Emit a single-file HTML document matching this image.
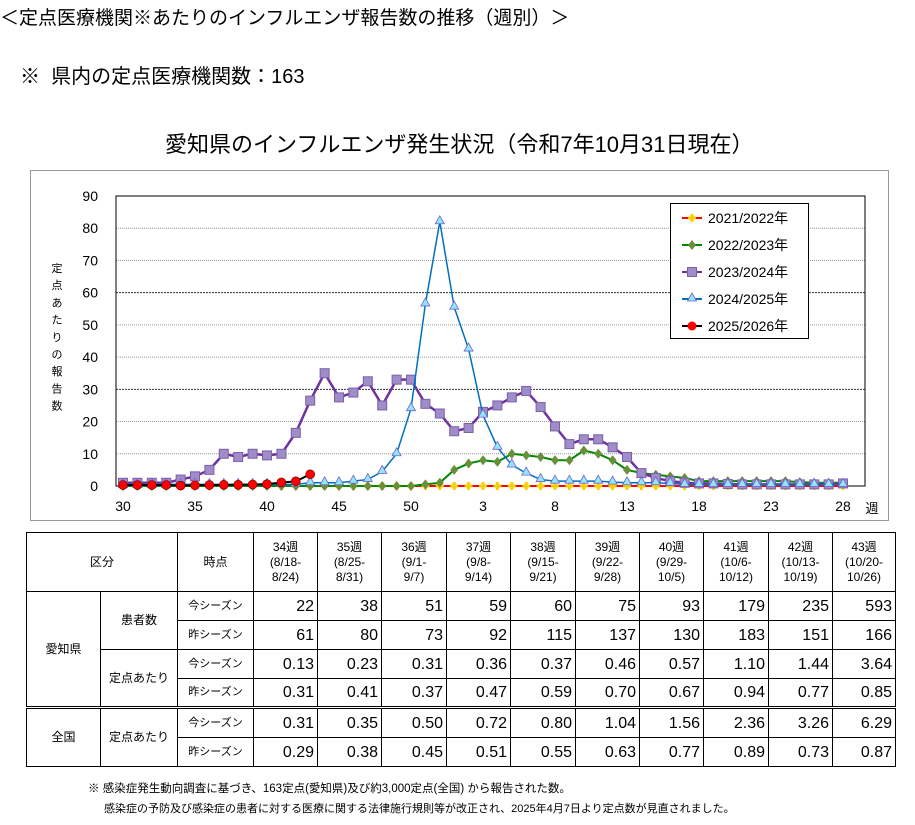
<!DOCTYPE html>
<html><head><meta charset="utf-8">
<style>
body{margin:0;background:#fff;width:915px;height:825px;overflow:hidden;font-family:"Liberation Sans","Noto Sans CJK JP",sans-serif;color:#000;position:relative}
.t{position:absolute;white-space:nowrap}
table{position:absolute;left:26px;top:532px;border-collapse:collapse;font-size:12px}
td{border:1px solid #000;padding:0;text-align:center;line-height:15px}
td.n{text-align:right;font-size:16px;padding-right:3px}
td.s{font-size:11px}
tr.thin td.n,tr.thin td.s{border-top:1px solid #999}
</style></head><body>
<div class="t" style="left:0;top:3px;font-size:19px">＜定点医療機関※あたりのインフルエンザ報告数の推移（週別）＞</div>
<div class="t" style="left:20px;top:60px;font-size:20px">※&nbsp; 県内の定点医療機関数：163</div>
<div class="t" style="left:165px;top:127px;font-size:22px">愛知県のインフルエンザ発生状況（令和7年10月31日現在）</div>
<svg id="c" style="position:absolute;left:0;top:0" width="915" height="530"></svg>
<table>
<tr style="height:59px"><td colspan="2" style="width:150px">区分</td><td style="width:75px">時点</td>
<td style="width:63px">34週<br>(8/18-<br>8/24)</td><td style="width:63px">35週<br>(8/25-<br>8/31)</td><td style="width:64px">36週<br>(9/1-<br>9/7)</td><td style="width:63px">37週<br>(9/8-<br>9/14)</td><td style="width:64px">38週<br>(9/15-<br>9/21)</td><td style="width:63px">39週<br>(9/22-<br>9/28)</td><td style="width:63px">40週<br>(9/29-<br>10/5)</td><td style="width:64px">41週<br>(10/6-<br>10/12)</td><td style="width:63px">42週<br>(10/13-<br>10/19)</td><td style="width:62px">43週<br>(10/20-<br>10/26)</td></tr>
<tr style="height:29px"><td rowspan="4" style="width:73px">愛知県</td><td rowspan="2" style="width:76px">患者数</td><td class="s">今シーズン</td><td class="n">22</td><td class="n">38</td><td class="n">51</td><td class="n">59</td><td class="n">60</td><td class="n">75</td><td class="n">93</td><td class="n">179</td><td class="n">235</td><td class="n">593</td></tr>
<tr style="height:29px" class="thin"><td class="s">昨シーズン</td><td class="n">61</td><td class="n">80</td><td class="n">73</td><td class="n">92</td><td class="n">115</td><td class="n">137</td><td class="n">130</td><td class="n">183</td><td class="n">151</td><td class="n">166</td></tr>
<tr style="height:29px"><td rowspan="2">定点あたり</td><td class="s">今シーズン</td><td class="n">0.13</td><td class="n">0.23</td><td class="n">0.31</td><td class="n">0.36</td><td class="n">0.37</td><td class="n">0.46</td><td class="n">0.57</td><td class="n">1.10</td><td class="n">1.44</td><td class="n">3.64</td></tr>
<tr style="height:29px" class="thin"><td class="s">昨シーズン</td><td class="n">0.31</td><td class="n">0.41</td><td class="n">0.37</td><td class="n">0.47</td><td class="n">0.59</td><td class="n">0.70</td><td class="n">0.67</td><td class="n">0.94</td><td class="n">0.77</td><td class="n">0.85</td></tr>
<tr style="height:30px;border-top:3px double #000"><td rowspan="2">全国</td><td rowspan="2">定点あたり</td><td class="s">今シーズン</td><td class="n">0.31</td><td class="n">0.35</td><td class="n">0.50</td><td class="n">0.72</td><td class="n">0.80</td><td class="n">1.04</td><td class="n">1.56</td><td class="n">2.36</td><td class="n">3.26</td><td class="n">6.29</td></tr>
<tr style="height:29px" class="thin"><td class="s">昨シーズン</td><td class="n">0.29</td><td class="n">0.38</td><td class="n">0.45</td><td class="n">0.51</td><td class="n">0.55</td><td class="n">0.63</td><td class="n">0.77</td><td class="n">0.89</td><td class="n">0.73</td><td class="n">0.87</td></tr>
</table>
<div class="t" style="left:88px;top:780px;font-size:11.5px">※ 感染症発生動向調査に基づき、163定点(愛知県)及び約3,000定点(全国) から報告された数。</div>
<div class="t" style="left:104px;top:800px;font-size:11px">感染症の予防及び感染症の患者に対する医療に関する法律施行規則等が改正され、2025年4月7日より定点数が見直されました。</div>
<script>
var s=document.getElementById('c'),h='';
var L=116,R=865,T=196,B=486,X0=123,DX=14.4;
function y(v){return B-v*(B-T)/90}
function x(i){return X0+i*DX}
h+='<rect x="30.5" y="170.5" width="858" height="350" fill="none" stroke="#999"/>';
for(var v=10;v<=80;v+=10){var dark=(v==30||v==60);h+='<line x1="'+L+'" x2="'+R+'" y1="'+y(v)+'" y2="'+y(v)+'" stroke="'+(dark?'#333':'#999')+'" stroke-dasharray="'+(dark?'2,1':'1,1')+'"/>';}
h+='<rect x="'+L+'" y="'+T+'" width="'+(R-L)+'" height="'+(B-T)+'" fill="none" stroke="#000"/>';
for(v=0;v<=90;v+=10)h+='<text x="98" y="'+(y(v)+5)+'" font-size="14" text-anchor="end">'+v+'</text>';
var lab=[[0,'30'],[5,'35'],[10,'40'],[15,'45'],[20,'50'],[25,'3'],[30,'8'],[35,'13'],[40,'18'],[45,'23'],[50,'28']];
lab.forEach(function(a){h+='<text x="'+x(a[0])+'" y="511" font-size="14" text-anchor="middle">'+a[1]+'</text>'});
h+='<text x="872" y="513" font-size="13" text-anchor="middle">週</text>';
'定点あたりの報告数'.split('').forEach(function(c,i){h+='<text x="57" y="'+(272+i*17.2)+'" font-size="11" text-anchor="middle">'+c+'</text>'});
function series(d,col,mk,w){var p=d.map(function(v,i){return x(i)+','+y(v)}).join(' ');
h+='<polyline points="'+p+'" fill="none" stroke="'+col+'" stroke-width="'+w+'"/>';
d.forEach(function(v,i){h+=mk(x(i),y(v))});}
var z=[];for(var i=0;i<51;i++)z.push(0);
series(z,'#f00',function(a,b){return '<path d="M'+(a-4)+' '+b+'h8M'+a+' '+(b-4)+'v8" stroke="#fc0" stroke-width="3"/>'},2);
var g=[0,0,0,0,0,0,0,0,0,0,0,0,0,0,0,0,0,0,0,0,0,0.5,1,5,7,8,7.5,10,9.5,9,8,8,11,10,8,5,4,3.5,3,2.5,1.5,1.5,1.5,1.5,1.5,1.5,1.5,1.2,1,1,1];
series(g,'#080',function(a,b){return '<path d="M'+a+' '+(b-5)+'l4 5l-4 5l-4-5z" fill="#6a8f3a"/>'},2);
var p=[1,1,1,1,2,3,5,10,9,10,9.5,10,16.5,26.5,35,27.5,29,32.5,25,33,33,25.5,22.5,17,18,23,25,27.5,29.5,24.5,18.5,13,14.5,14.5,12,9,4,2.5,1.5,1,0.8,0.8,0.6,0.5,0.5,0.5,0.5,0.5,0.5,0.5,0.8];
series(p,'#7030a0',function(a,b){return '<rect x="'+(a-4.5)+'" y="'+(b-4.5)+'" width="9" height="9" fill="#a08cc8" stroke="#7a60a8"/>'},2.5);
var bl=[0.5,0.5,0.5,0.5,0.5,0.5,0.5,0.5,0.5,0.5,0.5,0.5,0.5,1,1,1,1.5,2,4.5,10,24,56.5,82,55.5,42.5,22,12,6.5,4,2,1.5,1.5,1.5,1.5,1.2,1,1,1,0.8,0.5,0.5,0.5,0.5,0.5,0.5,0.5,0.5,0.5,0.5,0.5,0.5];
series(bl,'#0070c0',function(a,b){return '<path d="M'+a+' '+(b-6)+'l4.5 8h-9z" fill="#8de8ff" stroke="#7a60c8" stroke-width="0.8"/>'},1.5);
var r=[0.3,0.3,0.3,0.3,0.13,0.23,0.31,0.36,0.37,0.46,0.57,1.1,1.44,3.64];
series(r,'#000',function(a,b){return '<circle cx="'+a+'" cy="'+b+'" r="4.5" fill="#f00" stroke="#600" stroke-width="0.6"/>'},2);
h+='<rect x="670.5" y="203.5" width="138" height="135" fill="#fff" stroke="#000"/>';
var leg=[['2021/2022年','#f00',function(a,b){return '<path d="M'+(a-4)+' '+b+'h8M'+a+' '+(b-4)+'v8" stroke="#fc0" stroke-width="3"/>'}],
['2022/2023年','#080',function(a,b){return '<path d="M'+a+' '+(b-5)+'l4 5l-4 5l-4-5z" fill="#6a8f3a"/>'}],
['2023/2024年','#7030a0',function(a,b){return '<rect x="'+(a-4.5)+'" y="'+(b-4.5)+'" width="9" height="9" fill="#a08cc8" stroke="#7a60a8"/>'}],
['2024/2025年','#0070c0',function(a,b){return '<path d="M'+a+' '+(b-6)+'l4.5 8h-9z" fill="#8de8ff" stroke="#7a60c8" stroke-width="0.8"/>'}],
['2025/2026年','#000',function(a,b){return '<circle cx="'+a+'" cy="'+b+'" r="4.5" fill="#f00"/>'}]];
leg.forEach(function(l,i){var yy=218+i*27;h+='<line x1="682" x2="702" y1="'+yy+'" y2="'+yy+'" stroke="'+l[1]+'" stroke-width="2"/>'+l[2](692,yy)+'<text x="708" y="'+(yy+5)+'" font-size="14">'+l[0]+'</text>'});
s.innerHTML=h;
</script>
</body></html>
